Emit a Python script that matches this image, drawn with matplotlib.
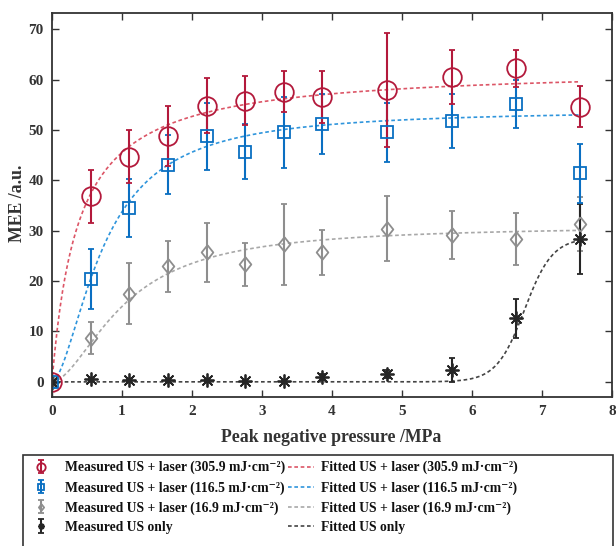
import numpy as np
import matplotlib
matplotlib.use("Agg")
import matplotlib.pyplot as plt
from matplotlib.patches import Rectangle

plt.rcParams["font.family"] = ["Liberation Serif", "DejaVu Serif"]
plt.rcParams["font.weight"] = "bold"

# Peak negative pressure (MPa)
pressure = [0, 0.55, 1.10, 1.66, 2.21, 2.76, 3.31, 3.86, 4.79, 5.71, 6.63, 7.54]

# Measured MEE (a.u.) and standard deviations
mee_305 = [0, 36.8, 44.7, 48.8, 54.8, 55.8, 57.6, 56.5, 57.9, 60.5, 62.2, 54.6]
err_305 = [0, 5.3, 5.3, 6.0, 5.5, 4.8, 4.1, 5.1, 11.3, 5.4, 3.7, 4.1]
mee_116 = [0, 20.4, 34.5, 43.1, 48.7, 45.7, 49.5, 51.2, 49.5, 51.8, 55.1, 41.4]
err_116 = [0, 5.9, 5.8, 5.9, 6.6, 5.4, 7.1, 6.0, 5.9, 5.3, 4.8, 5.9]
mee_17 = [0, 8.7, 17.5, 22.9, 25.7, 23.3, 27.3, 25.7, 30.4, 29.2, 28.4, 31.3]
err_17 = [0, 3.2, 6.0, 5.1, 5.8, 4.2, 8.0, 4.5, 6.4, 4.8, 5.2, 5.3]
mee_us = [0, 0.5, 0.4, 0.3, 0.4, 0.2, 0.2, 1.0, 1.5, 2.4, 12.6, 28.4]
err_us = [0, 0.2, 0.2, 0.2, 0.2, 0.2, 0.2, 0.6, 0.8, 2.4, 3.9, 6.9]

# Fit parameters: Hill curves (amplitude, half-point, exponent) and a logistic for US only
hill_305 = (62.5, 0.373, 1.0)
hill_116 = (54.0, 0.74, 1.7)
hill_17 = (31.0, 1.04, 1.75)
logistic_us = (28.6, 6.75, 0.2)

labels_meas = [
    "Measured US + laser (305.9 mJ\u00b7cm\u207b\u00b2)",
    "Measured US + laser (116.5 mJ\u00b7cm\u207b\u00b2)",
    "Measured US + laser (16.9 mJ\u00b7cm\u207b\u00b2)",
    "Measured US only",
]
labels_fit = [
    "Fitted US + laser (305.9 mJ\u00b7cm\u207b\u00b2)",
    "Fitted US + laser (116.5 mJ\u00b7cm\u207b\u00b2)",
    "Fitted US + laser (16.9 mJ\u00b7cm\u207b\u00b2)",
    "Fitted US only",
]


def hill(x, a, k, n):
    return a * x ** n / (k ** n + x ** n)


def logistic(x, a, x0, w):
    return a / (1.0 + np.exp(-(x - x0) / w))


c_red, c_red_fit = "#B3193B", "#DC5566"
c_blue, c_blue_fit = "#0A6FC2", "#2F95DC"
c_gray, c_gray_fit = "#8E8E8E", "#A8A8A8"
c_blk, c_blk_fit = "#262626", "#444444"

diamond = [(0, 1), (0.8, 0), (0, -1), (-0.8, 0), (0, 1)]

fig = plt.figure(figsize=(6.16, 5.46), dpi=100)
ax = fig.add_axes([52 / 616, 149 / 546, 560 / 616, 384 / 546])

xf = np.linspace(0, pressure[-1], 400)
dash = (0, (2.2, 1.6))
fits = [
    ax.plot(xf, hill(xf, *hill_305), color=c_red_fit, lw=1.2, ls=dash)[0],
    ax.plot(xf, hill(xf, *hill_116), color=c_blue_fit, lw=1.2, ls=dash)[0],
    ax.plot(xf, hill(xf, *hill_17), color=c_gray_fit, lw=1.2, ls=dash)[0],
    ax.plot(xf, logistic(xf, *logistic_us), color=c_blk_fit, lw=1.2, ls=dash)[0],
]

eb_kw = dict(ls="none", capsize=2.2, elinewidth=1.5, capthick=1.5,
             markerfacecolor="none", markeredgewidth=1.3)
eb_gray = ax.errorbar(pressure, mee_17, yerr=err_17, color=c_gray, marker=diamond,
                      markersize=10.5, **eb_kw)
eb_us = ax.errorbar(pressure, mee_us, yerr=err_us, color=c_blk, marker=(8, 2, 0),
                    markersize=10, **eb_kw)
eb_blue = ax.errorbar(pressure, mee_116, yerr=err_116, color=c_blue, marker="s",
                      markersize=8.6, **eb_kw)
eb_red = ax.errorbar(pressure, mee_305, yerr=err_305, color=c_red, marker="o",
                     markersize=13.4, **eb_kw)
meas = [eb_red, eb_blue, eb_gray, eb_us]

ax.set_xlim(0, 8)
ax.set_ylim(-3, 73.2)
ax.set_xticks(range(0, 9))
ax.set_yticks(range(0, 71, 10))
for s in ax.spines.values():
    s.set_color("#333333")
    s.set_linewidth(1.3)
ax.tick_params(direction="in", top=True, right=True, length=5, width=1.0,
               colors="#333333", labelcolor="#333333", labelsize=11, pad=6)

fig.text(331 / 616, 1 - 438 / 546, "Peak negative pressure /MPa", ha="center",
         va="center", fontsize=12.8, color="#333333")
fig.text(17 / 616, 1 - 203 / 546, "MEE /a.u.", ha="center", va="center",
         rotation=90, fontsize=12.8, color="#333333")

# Legend frame and two legend columns
fig.patches.append(Rectangle((23 / 616, -0.02), 590 / 616, 1 - 455 / 546 + 0.02,
                             transform=fig.transFigure, fill=False,
                             edgecolor="#333333", lw=1.2))
leg_kw = dict(frameon=False, borderpad=0, borderaxespad=0, fontsize=9.8,
              labelspacing=0.48, loc="upper left", labelcolor="#111111")
fig.legend(meas, labels_meas, bbox_to_anchor=(35 / 616, 1 - 461 / 546),
           handlelength=0.9, handletextpad=1.3, markerscale=0.45, **leg_kw)
fig.legend(fits, labels_fit, bbox_to_anchor=(288 / 616, 1 - 461 / 546),
           handlelength=1.9, handletextpad=0.55, **leg_kw)

fig.savefig("out.png", dpi=100)
